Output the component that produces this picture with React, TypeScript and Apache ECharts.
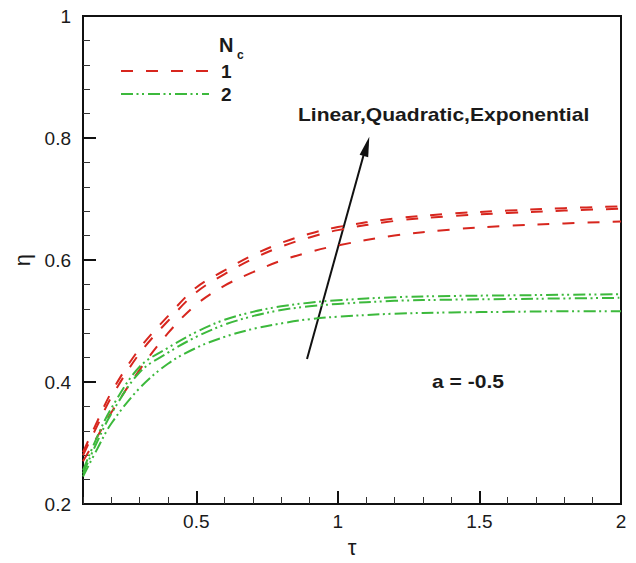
import React, { useEffect, useRef } from "react";
import * as echarts from "echarts";

// tau values (x axis)
const tau = [0.1, 0.15, 0.2, 0.3, 0.4, 0.5, 0.6, 0.7, 0.8, 0.9, 1.0, 1.2, 1.4, 1.6, 1.8, 2.0];

// Nc = 1 (red dashed)
const nc1Exponential = [0.285, 0.335, 0.383, 0.455, 0.508, 0.555, 0.583, 0.608, 0.628, 0.643, 0.654, 0.668, 0.676, 0.681, 0.685, 0.688];
const nc1Quadratic = [0.28, 0.328, 0.375, 0.447, 0.5, 0.547, 0.577, 0.602, 0.622, 0.637, 0.649, 0.664, 0.672, 0.677, 0.681, 0.684];
const nc1Linear = [0.27, 0.31, 0.35, 0.42, 0.48, 0.527, 0.558, 0.58, 0.599, 0.613, 0.624, 0.64, 0.65, 0.656, 0.66, 0.663];

// Nc = 2 (green dash-dot-dot)
const nc2Exponential = [0.255, 0.31, 0.357, 0.425, 0.456, 0.482, 0.502, 0.515, 0.524, 0.53, 0.534, 0.539, 0.541, 0.542, 0.543, 0.544];
const nc2Quadratic = [0.25, 0.302, 0.348, 0.416, 0.448, 0.474, 0.494, 0.508, 0.518, 0.524, 0.528, 0.533, 0.535, 0.536, 0.537, 0.538];
const nc2Linear = [0.245, 0.29, 0.332, 0.39, 0.43, 0.456, 0.474, 0.487, 0.496, 0.503, 0.507, 0.512, 0.514, 0.515, 0.516, 0.516];

const xMajor = [0.5, 1, 1.5, 2];
const yMajor = [0.2, 0.4, 0.6, 0.8, 1];

const RED = "#d7261e";
const GREEN = "#3cb93c";
const RED_DASH = [12, 13];
const GREEN_DASH = [12, 3.5, 2, 3.5, 2, 4];
const FONT = "'Liberation Sans', Arial, Helvetica, sans-serif";

export default function App() {
  const ref = useRef<HTMLDivElement>(null);

  useEffect(() => {
    const chart = echarts.init(ref.current!, null, { renderer: "svg" });

    const mk = (arr: number[], color: string, dash: number[]) => ({
      type: "line",
      xAxisIndex: 0,
      yAxisIndex: 0,
      showSymbol: false,
      smooth: 0.35,
      data: tau.map((t, i) => [t, arr[i]]),
      lineStyle: { color, width: 2, type: dash },
      silent: true,
    });

    const isMult = (v: number, step: number) => Math.abs(v / step - Math.round(v / step)) < 1e-6;

    const option: any = {
      animation: false,
      backgroundColor: "#fff",
      grid: {
        left: 83,
        right: 15,
        top: 16,
        bottom: 56,
        show: true,
        borderColor: "#111",
        borderWidth: 2,
        backgroundColor: "transparent",
      },
      xAxis: [
        {
          type: "value",
          min: 0.1,
          max: 2,
          interval: 0.1,
          position: "bottom",
          axisLine: { show: true, onZero: false, lineStyle: { color: "#111", width: 2 } },
          axisTick: { show: true, inside: true, length: 7, lineStyle: { color: "#333", width: 1 } },
          splitLine: { show: false },
          axisLabel: {
            show: true,
            margin: 8,
            fontSize: 19,
            fontFamily: FONT,
            color: "#1a1a1a",
            showMinLabel: true,
            showMaxLabel: true,
            formatter: (v: number) => (isMult(v, 0.5) ? String(Math.round(v * 10) / 10) : ""),
          },
          name: "τ",
          nameLocation: "middle",
          nameGap: 32,
          nameTextStyle: { fontSize: 22, fontFamily: FONT, color: "#1a1a1a" },
        },
        {
          type: "value",
          min: 0.1,
          max: 2,
          position: "bottom",
          axisLine: { show: false, onZero: false },
          axisTick: { show: true, inside: true, length: 13, customValues: xMajor, lineStyle: { color: "#111", width: 2 } },
          axisLabel: { show: false },
          splitLine: { show: false },
        },
      ],
      yAxis: [
        {
          type: "value",
          min: 0.2,
          max: 1,
          interval: 0.04,
          position: "left",
          axisLine: { show: true, onZero: false, lineStyle: { color: "#111", width: 2 } },
          axisTick: { show: true, inside: true, length: 7, lineStyle: { color: "#333", width: 1 } },
          splitLine: { show: false },
          axisLabel: {
            show: true,
            margin: 12,
            fontSize: 19,
            fontFamily: FONT,
            color: "#1a1a1a",
            showMinLabel: true,
            showMaxLabel: true,
            formatter: (v: number) => (isMult(v, 0.2) ? String(Math.round(v * 10) / 10) : ""),
          },
          name: "η",
          nameLocation: "middle",
          nameGap: 50,
          nameTextStyle: { fontSize: 22, fontFamily: FONT, color: "#1a1a1a" },
        },
        {
          type: "value",
          min: 0.2,
          max: 1,
          position: "left",
          axisLine: { show: false, onZero: false },
          axisTick: { show: true, inside: true, length: 13, customValues: yMajor, lineStyle: { color: "#111", width: 2 } },
          axisLabel: { show: false },
          splitLine: { show: false },
        },
      ],
      series: [
        mk(nc1Exponential, RED, RED_DASH),
        mk(nc1Quadratic, RED, RED_DASH),
        mk(nc1Linear, RED, RED_DASH),
        mk(nc2Exponential, GREEN, GREEN_DASH),
        mk(nc2Quadratic, GREEN, GREEN_DASH),
        mk(nc2Linear, GREEN, GREEN_DASH),
      ],
      graphic: [
        // legend
        { type: "text", left: 219, top: 35, style: { text: "N", font: `bold 20px ${FONT}`, fill: "#1a1a1a" } },
        { type: "text", left: 237, top: 49, style: { text: "c", font: `bold 12px ${FONT}`, fill: "#1a1a1a" } },
        { type: "line", shape: { x1: 121, y1: 71, x2: 209, y2: 71 }, style: { stroke: RED, lineWidth: 2, lineDash: RED_DASH } },
        { type: "text", left: 221, top: 62, style: { text: "1", font: `bold 19px ${FONT}`, fill: "#1a1a1a" } },
        { type: "line", shape: { x1: 121, y1: 94, x2: 209, y2: 94 }, style: { stroke: GREEN, lineWidth: 2, lineDash: GREEN_DASH } },
        { type: "text", left: 221, top: 85, style: { text: "2", font: `bold 19px ${FONT}`, fill: "#1a1a1a" } },
        // annotation
        {
          type: "text",
          x: 298,
          y: 115,
          scaleX: 1.17,
          style: { text: "Linear,Quadratic,Exponential", font: `bold 18px ${FONT}`, fill: "#1a1a1a", textVerticalAlign: "middle" },
        },
        { type: "line", shape: { x1: 307, y1: 359, x2: 365, y2: 150 }, style: { stroke: "#111", lineWidth: 2 } },
        { type: "polygon", shape: { points: [[369.3, 136.7], [368.2, 157.2], [359.6, 154.8]] }, style: { fill: "#111" } },
        {
          type: "text",
          x: 432,
          y: 382,
          scaleX: 1.17,
          style: { text: "a = -0.5", font: `bold 18px ${FONT}`, fill: "#1a1a1a", textVerticalAlign: "middle" },
        },
      ],
    };

    chart.setOption(option);
    return () => chart.dispose();
  }, []);

  return (
    <div
      ref={ref}
      style={{ position: "fixed", left: 0, top: 0, width: 636, height: 563, background: "#fff" }}
    />
  );
}
